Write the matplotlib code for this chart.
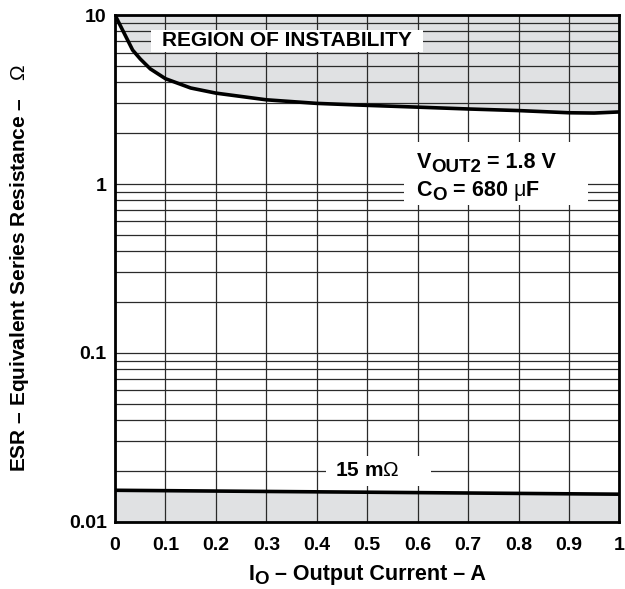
import matplotlib.pyplot as plt
from matplotlib.patches import Rectangle
import numpy as np

plt.rcParams['font.family'] = ['Liberation Sans', 'DejaVu Sans']
plt.rcParams['font.weight'] = 'bold'
plt.rcParams['mathtext.fontset'] = 'custom'
plt.rcParams['mathtext.rm'] = 'Liberation Sans:weight=normal'
plt.rcParams['mathtext.it'] = 'Liberation Sans:italic:weight=normal'
plt.rcParams['mathtext.bf'] = 'Liberation Sans:bold'

# upper stability boundary (ESR max) vs output current
current_hi = [0.0, 0.035, 0.05, 0.07, 0.1, 0.15, 0.2, 0.3, 0.4, 0.5, 0.6, 0.7, 0.8, 0.9, 0.95, 1.0]
esr_hi = [10.0, 6.2, 5.5, 4.8, 4.2, 3.7, 3.45, 3.15, 3.0, 2.92, 2.85, 2.78, 2.72, 2.64, 2.63, 2.67]

# lower stability boundary (ESR min)
current_lo = [0.0, 0.5, 1.0]
esr_lo = [0.0154, 0.015, 0.0146]

x_ticks = [0, 0.1, 0.2, 0.3, 0.4, 0.5, 0.6, 0.7, 0.8, 0.9, 1]
x_labels = ['0', '0.1', '0.2', '0.3', '0.4', '0.5', '0.6', '0.7', '0.8', '0.9', '1']
y_ticks = [0.01, 0.1, 1, 10]
y_labels = ['0.01', '0.1', '1', '10']

fill_col = '#e0e1e3'
grid_col = '#2a2a2a'

fig = plt.figure(figsize=(6.25, 5.89), dpi=100)
ax = fig.add_axes([0.184, 0.1138, 0.807, 0.8607])
renderer = fig.canvas.get_renderer()


def draw_pieces(xy, xycoords, pieces, center=False):
    # writes text pieces one after another, (text, size, y shift in px)
    dx = 0
    texts = []
    for s, size, dy in pieces:
        t = ax.annotate(s, xy=xy, xycoords=xycoords, xytext=(dx, dy),
                        textcoords='offset pixels', fontsize=size, fontweight='bold',
                        ha='left', va='baseline', zorder=6, annotation_clip=False)
        dx += t.get_window_extent(renderer).width
        texts.append(t)
    if center:
        for t in texts:
            t.xyann = (t.xyann[0] - dx / 2, t.xyann[1])
    return texts


ax.set_yscale('log')
ax.set_xlim(0, 1)
ax.set_ylim(0.01, 10)

# shaded instability regions
ax.fill_between(current_hi, esr_hi, 10, color=fill_col, zorder=0)
ax.fill_between(current_lo, 0.01, esr_lo, color=fill_col, zorder=0)

# grid
ax.set_xticks(x_ticks)
ax.set_xticklabels(x_labels, fontsize=14, fontweight='bold')
ax.set_yticks(y_ticks)
ax.set_yticklabels(y_labels, fontsize=14, fontweight='bold')
minor = [m * d for d in [0.01, 0.1, 1] for m in range(2, 10)]
ax.set_yticks(minor, minor=True)
ax.yaxis.set_minor_formatter(plt.NullFormatter())
ax.grid(True, which='both', axis='y', color=grid_col, lw=0.9, zorder=1)
ax.grid(True, which='major', axis='x', color=grid_col, lw=0.9, zorder=1)
ax.tick_params(which='both', length=0)
ax.tick_params(axis='y', pad=6)
ax.tick_params(axis='x', pad=11)

ax.plot(current_hi, esr_hi, color='black', lw=2.6, zorder=3)
ax.plot(current_lo, esr_lo, color='black', lw=2.6, zorder=3)

for s in ax.spines.values():
    s.set_linewidth(2.0)
    s.set_zorder(4)

# white label boxes over the grid
ax.add_patch(Rectangle((0.072, 6.05), 0.539, 2.1, facecolor='white', edgecolor='none', zorder=5))
ax.add_patch(Rectangle((0.572, 0.75), 0.365, 1.02, facecolor='white', edgecolor='none', zorder=5))
ax.add_patch(Rectangle((0.4175, 0.0164), 0.2095, 0.0081, facecolor='white', edgecolor='none', zorder=5))

ax.text(0.3415, 7.05, 'REGION OF INSTABILITY', fontsize=15, fontweight='bold',
        ha='center', va='center', zorder=6)
ax.text(0.5, 0.0203, '15 m$\\mathrm{\\Omega}$', fontsize=15, fontweight='bold',
        ha='center', va='center', zorder=6)

draw_pieces((0.598, 1.24), 'data', [('V', 15.5, 0), ('OUT2', 13.5, -4), (' = 1.8 V', 15.5, 0)])
draw_pieces((0.598, 0.85), 'data', [('C', 15.5, 0), ('O', 13.5, -4),
                                    (' = 680 $\\mathrm{\\mu}$F', 15.5, 0)])

# axis titles
draw_pieces((367, 9), 'figure pixels', [('I', 15.5, 0), ('O', 13.5, -4),
                                        (' \u2013 Output Current \u2013 A', 15.5, 0)], center=True)
ax.set_ylabel('ESR \u2013 Equivalent Series Resistance \u2013   $\\mathrm{\\Omega}$', fontsize=15,
              fontweight='bold', labelpad=27)

fig.savefig('out.png', dpi=100)
